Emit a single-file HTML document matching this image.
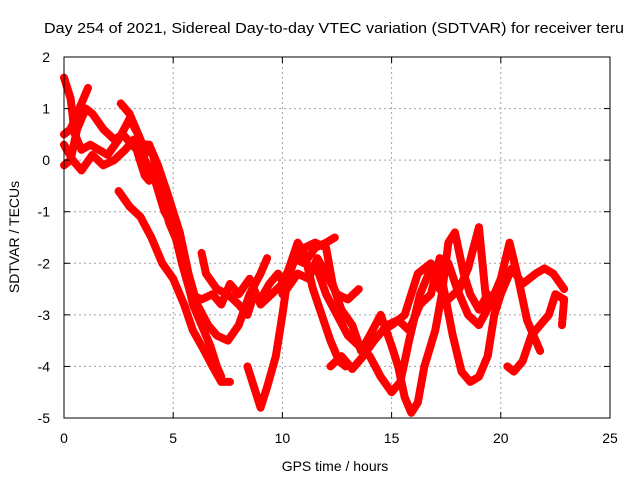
<!DOCTYPE html>
<html><head><meta charset="utf-8"><style>
body{margin:0;background:#fff}
svg{display:block;font-family:"Liberation Sans",sans-serif}
</style></head><body>
<svg id="chart" width="640" height="480">
<text x="44" y="33" font-size="15" textLength="580" lengthAdjust="spacingAndGlyphs">Day 254 of 2021, Sidereal Day-to-day VTEC variation (SDTVAR) for receiver teru</text>
<g id="grid"></g>
<g id="series"></g>
<rect x="64" y="57" width="546" height="361" fill="none" stroke="#000" stroke-width="1"/>
<g id="ticks"></g>
<text x="335" y="471" font-size="14" text-anchor="middle">GPS time / hours</text>
<text transform="translate(19,237) rotate(-90)" font-size="14" text-anchor="middle">SDTVAR / TECUs</text>
</svg>
<script>
const xTicks=[0,5,10,15,20,25];
const yTicks=[2,1,0,-1,-2,-3,-4,-5];
const t1=[[2.5,-0.6],[3,-0.9],[3.5,-1.1],[4,-1.5],[4.5,-2],[5,-2.3],[5.5,-2.8],[5.9,-3.3],[6.3,-3.6],[6.8,-4],[7.2,-4.3],[7.6,-4.3]];
const t2=[[0,-0.1],[0.3,0],[0.6,0.6],[1,1.0],[1.3,0.9],[1.8,0.6],[2.3,0.4],[2.7,0.5],[3.1,0.3],[3.6,0.1],[4,0.2],[4.4,-0.4],[4.8,-1.2],[5.2,-1.6],[5.5,-2],[5.9,-2.8],[6.3,-3.2],[6.7,-3.6],[7,-4],[7.2,-4.2]];
const t3=[[0,1.6],[0.3,1.2],[0.5,0.5],[0.8,0.2],[1.2,0.3],[1.6,0.2],[2,0.1],[2.5,0.4],[3,0.8],[3.4,0.5],[3.7,0.0],[4.1,-0.3],[4.6,-1],[5,-1.3],[5.4,-2],[5.8,-2.6],[6.3,-2.7],[6.8,-2.6],[7.2,-2.8],[7.6,-2.4],[8,-2.6],[8.5,-2.3],[9,-2.8],[9.5,-2.6],[10,-2.4],[10.5,-1.9],[11,-2.0],[11.5,-1.7],[12,-1.6],[12.4,-1.5]];
const t4=[[0,0.3],[0.4,0],[0.8,-0.2],[1.3,0.1],[1.8,-0.1],[2.3,0],[2.8,0.2],[3.2,0.4],[3.4,0.1],[3.7,-0.3],[3.9,-0.4]];
const t5=[[0,0.5],[0.3,0.6],[0.7,1.0],[1.1,1.4]];
const t6=[[2.6,1.1],[3,0.9],[3.3,0.6],[3.6,0.3],[3.9,0.3],[4.3,-0.1],[4.7,-0.6],[5,-1],[5.3,-1.4],[5.7,-2.2],[6.1,-2.8],[6.6,-3.2],[7,-3.4],[7.5,-3.5],[8,-3.2],[8.5,-2.6],[9,-2.2],[9.3,-1.9]];
const t7=[[6.3,-1.8],[6.5,-2.2],[7,-2.5],[7.5,-2.6],[8,-2.8],[8.4,-3.0],[8.7,-2.6],[9,-2.7],[9.4,-2.4],[9.8,-2.2],[10.2,-2.5],[10.7,-2.2],[11.2,-2.3],[11.6,-1.9],[12,-2.2],[12.5,-2.6],[13,-2.7],[13.5,-2.5]];
const t8=[[8.4,-4.0],[8.7,-4.4],[9,-4.8],[9.3,-4.4],[9.7,-3.8],[10,-3.0],[10.3,-2.1],[10.7,-1.6],[11,-1.8],[11.4,-2.5],[11.8,-3.0],[12.2,-3.5],[12.6,-3.9],[12.9,-4.0]];
const t9=[[12.2,-4.0],[12.7,-3.8],[13.2,-4.05],[13.7,-3.8],[14.2,-3.5],[14.8,-3.2],[15.3,-3.1],[15.8,-3.3],[16.3,-2.8],[16.8,-2.6],[17.2,-1.9],[17.6,-2.0],[18,-2.5],[18.5,-3.0],[19,-3.2],[19.5,-2.8],[20,-2.3],[20.4,-1.6],[20.8,-2.3],[21.2,-3.1],[21.6,-3.5],[21.8,-3.7]];
const t10=[[10,-2.6],[10.5,-2.0],[11,-1.7],[11.5,-1.6],[12,-1.7],[12.3,-2.4],[12.7,-2.9],[13.2,-3.2],[13.6,-3.7],[14,-3.4],[14.5,-3.0],[15,-3.6],[15.3,-4.0],[15.6,-4.6],[15.9,-4.9],[16.2,-4.7],[16.5,-4.0],[17,-3.3],[17.3,-2.6],[17.6,-1.6],[17.9,-1.4],[18.3,-2.2],[18.6,-2.6],[19,-2.9],[19.4,-2.6]];
const t11=[[11.5,-2.0],[12,-2.6],[12.5,-3.0],[13,-3.4],[13.5,-3.6],[14,-3.8],[14.5,-4.2],[15,-4.5],[15.4,-4.3],[15.8,-3.5],[16.3,-2.6],[16.8,-2.1],[17.2,-2.5],[17.6,-2.7],[18.1,-2.5],[18.5,-2.1],[19,-1.3],[19.3,-2.6]];
const t12=[[14.6,-3.3],[15,-3.2],[15.6,-3.0],[16.2,-2.2],[16.8,-2.0],[17.3,-2.3],[17.8,-3.4],[18.2,-4.1],[18.6,-4.3],[19,-4.2],[19.4,-3.8],[19.7,-3.0],[20,-2.6],[20.5,-2.1],[21,-2.4],[21.6,-2.2],[22,-2.1],[22.4,-2.2],[22.9,-2.5]];
const t13=[[20.3,-4.0],[20.6,-4.1],[21,-3.9],[21.4,-3.4],[21.8,-3.2],[22.2,-3.0],[22.5,-2.6],[22.9,-2.7],[22.8,-3.2]];
const tracks=[t1,t2,t3,t4,t5,t6,t7,t8,t9,t10,t11,t12,t13];
const NS="http://www.w3.org/2000/svg";
const X0=64,X1=610,Y0=418,Y1=57;
function sx(t){return X0+(t-0)/(25-0)*(X1-X0);}
function sy(v){return Y0-(v-(-5))/(2-(-5))*(Y0-Y1);}
const grid=document.getElementById('grid'),ticks=document.getElementById('ticks'),ser=document.getElementById('series');
function mk(tag,attrs,parent){const e=document.createElementNS(NS,tag);for(const k in attrs)e.setAttribute(k,attrs[k]);parent.appendChild(e);return e;}
xTicks.forEach(t=>{
  const x=sx(t);
  if(t>0&&t<25){const g=mk('line',{x1:x,x2:x,y1:Y1,y2:Y0,stroke:'#a0a0a0','stroke-dasharray':'2,3'},grid);
  
  }
  mk('line',{x1:x,x2:x,y1:Y0,y2:Y0-6,stroke:'#000'},ticks);
  mk('line',{x1:x,x2:x,y1:Y1,y2:Y1+6,stroke:'#000'},ticks);
  const l=mk('text',{x:x,y:Y0+25,'font-size':14,'text-anchor':'middle'},ticks);l.textContent=t;
  
  
});
yTicks.forEach(v=>{
  const y=sy(v);
  if(v<2&&v>-5){const g=mk('line',{x1:X0,x2:X1,y1:y,y2:y,stroke:'#a0a0a0','stroke-dasharray':'2,3'},grid);
  
  }
  mk('line',{x1:X0,x2:X0+6,y1:y,y2:y,stroke:'#000'},ticks);
  mk('line',{x1:X1,x2:X1-6,y1:y,y2:y,stroke:'#000'},ticks);
  const l=mk('text',{x:X0-14,y:y+5,'font-size':14,'text-anchor':'end'},ticks);l.textContent=v;
  
  
});
tracks.forEach((tr,i)=>{
  const p=mk('polyline',{points:tr.map(d=>sx(d[0])+','+sy(d[1])).join(' '),fill:'none',stroke:'#ff0000','stroke-width':8,'stroke-linejoin':'round','stroke-linecap':'round'},ser);
  
  
});
</script>
</body></html>
